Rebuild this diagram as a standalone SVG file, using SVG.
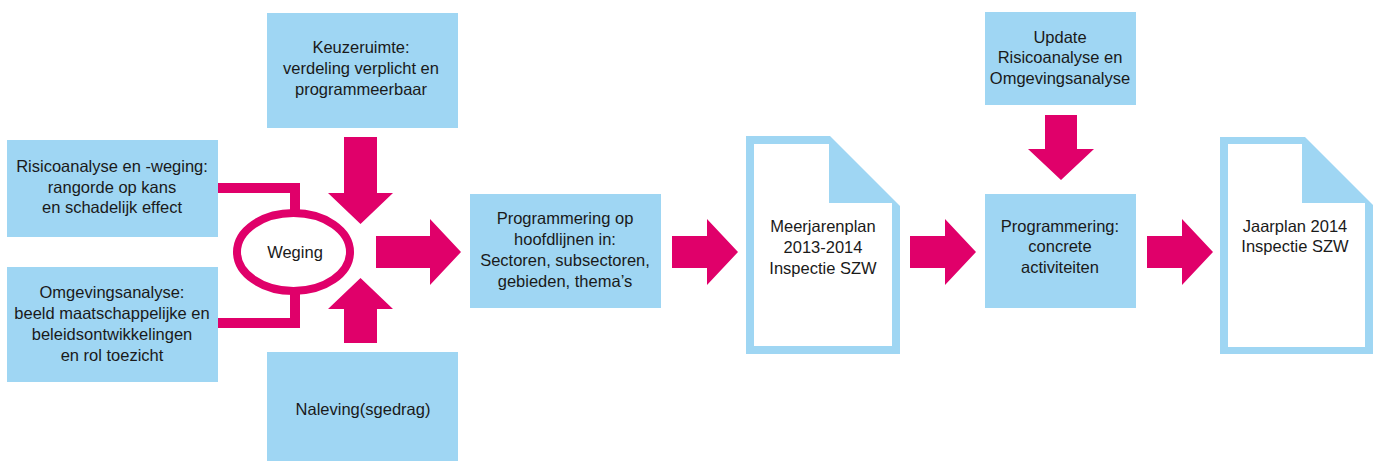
<svg xmlns="http://www.w3.org/2000/svg" width="1375" height="461" viewBox="0 0 1375 461">
<style>
.box{fill:#9fd6f3}
.arr{fill:#e0006a}
.t{font-family:"Liberation Sans",Arial,sans-serif;font-size:16.5px;fill:#1a1a1a;text-anchor:middle}
.conn{fill:none;stroke:#e0006a;stroke-width:10}
</style>
<rect width="1375" height="461" fill="#ffffff"/>
<g id="connectors">
<path class="conn" d="M218,188 H295 V212"/>
<path class="conn" d="M218,323 H295 V292"/>
<path class="arr" d="M344,137 H377 V193 H393 L360.5,224 L328,193 H344 Z"/>
<path class="arr" d="M344,343 H377 V309 H393 L360.5,278 L328,309 H344 Z"/>
<path class="arr" d="M376,236 H430 V219 L461,252 L430,285 V268 H376 Z"/>
<path class="arr" d="M672,236 H707 V219 L738,252 L707,285 V268 H672 Z"/>
<path class="arr" d="M910,236 H945 V219 L976,252 L945,285 V268 H910 Z"/>
<path class="arr" d="M1147,236 H1182 V219 L1213,252 L1182,285 V268 H1147 Z"/>
<path class="arr" d="M1045,115 H1077 V149 H1094 L1061,180 L1028,149 H1045 Z"/>
</g>
<g id="risico">
<rect class="box" x="7" y="140" width="211" height="97"/>
<text class="t" x="112" y="172">Risicoanalyse en -weging:</text>
<text class="t" x="112" y="193">rangorde op kans</text>
<text class="t" x="112" y="213">en schadelijk effect</text>
</g>
<g id="omgeving">
<rect class="box" x="7" y="267" width="211" height="115"/>
<text class="t" x="112" y="298">Omgevingsanalyse:</text>
<text class="t" x="112" y="319">beeld maatschappelijke en</text>
<text class="t" x="112" y="340">beleidsontwikkelingen</text>
<text class="t" x="112" y="361">en rol toezicht</text>
</g>
<g id="weging">
<ellipse cx="293.5" cy="252" rx="56.5" ry="39" fill="#ffffff" stroke="#e0006a" stroke-width="8"/>
<text class="t" x="295" y="258">Weging</text>
</g>
<g id="keuzeruimte">
<rect class="box" x="267" y="13" width="191" height="115"/>
<text class="t" x="361" y="53">Keuzeruimte:</text>
<text class="t" x="361" y="74">verdeling verplicht en</text>
<text class="t" x="361" y="95">programmeerbaar</text>
</g>
<g id="naleving">
<rect class="box" x="267" y="352" width="191" height="109"/>
<text class="t" x="363" y="415">Naleving(sgedrag)</text>
</g>
<g id="hoofdlijnen">
<rect class="box" x="470" y="194" width="191" height="114"/>
<text class="t" x="565" y="224">Programmering op</text>
<text class="t" x="565" y="245">hoofdlijnen in:</text>
<text class="t" x="565" y="266">Sectoren, subsectoren,</text>
<text class="t" x="565" y="287">gebieden, thema’s</text>
</g>
<g id="meerjarenplan">
<path class="box" d="M746,136 H830 L900,206 V354 H746 Z"/>
<path fill="#ffffff" d="M754,144 H829 V203 H892 V346 H754 Z"/>
<text class="t" x="823" y="232">Meerjarenplan</text>
<text class="t" x="823" y="253">2013-2014</text>
<text class="t" x="823" y="274">Inspectie SZW</text>
</g>
<g id="update">
<rect class="box" x="985" y="12" width="151" height="93"/>
<text class="t" x="1060" y="43">Update</text>
<text class="t" x="1060" y="63">Risicoanalyse en</text>
<text class="t" x="1060" y="84">Omgevingsanalyse</text>
</g>
<g id="concreet">
<rect class="box" x="985" y="194" width="151" height="114"/>
<text class="t" x="1060" y="232">Programmering:</text>
<text class="t" x="1060" y="252">concrete</text>
<text class="t" x="1060" y="273">activiteiten</text>
</g>
<g id="jaarplan">
<path class="box" d="M1220,137 H1305 L1373,205 V354 H1220 Z"/>
<path fill="#ffffff" d="M1228,144 H1302 V203 H1365 V347 H1228 Z"/>
<text class="t" x="1295" y="232">Jaarplan 2014</text>
<text class="t" x="1295" y="252">Inspectie SZW</text>
</g>
</svg>
